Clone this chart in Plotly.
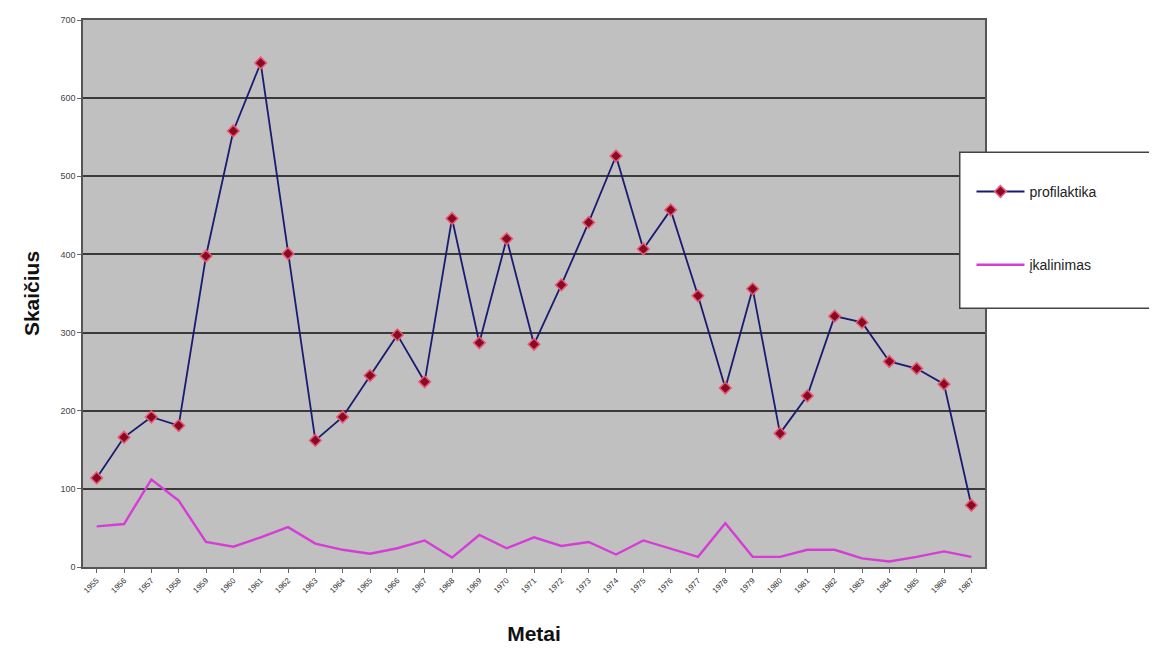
import plotly.graph_objects as go

years = [str(y) for y in range(1955, 1988)]
profilaktika = [114, 166, 192, 181, 398, 558, 645, 401, 162, 192, 245, 297, 237, 446, 287,
                420, 285, 361, 441, 526, 407, 457, 347, 229, 356, 171, 219, 321, 313, 263,
                254, 234, 79]
ikalinimas = [52, 55, 112, 85, 32, 26, 38, 51, 30, 22, 17, 24, 34, 12, 41,
              24, 38, 27, 32, 16, 34, 24, 13, 56, 13, 13, 22, 22, 11, 7,
              13, 20, 13]

fig = go.Figure()
fig.add_trace(go.Scatter(
    x=years, y=profilaktika, name="profilaktika", mode="lines+markers",
    line=dict(color="#1a1a70", width=1.8),
    marker=dict(symbol="diamond", size=9, color="#8a0a22",
                line=dict(color="#e85a78", width=1.5)),
    legendgroup="a",
))
fig.add_trace(go.Scatter(
    x=years, y=ikalinimas, name="įkalinimas", mode="lines",
    line=dict(color="#d63cd6", width=2.4),
    legendgroup="b",
))

fig.update_layout(
    width=1157, height=655,
    margin=dict(l=75, r=180, t=7, b=96),
    paper_bgcolor="white",
    plot_bgcolor="#c0c0c0",
    font=dict(family="Liberation Sans, Arial, sans-serif", color="#222"),
    showlegend=True,
    legend=dict(
        x=0.985, y=0.715, xanchor="left", yanchor="top",
        bgcolor="rgba(0,0,0,0)", borderwidth=0,
        font=dict(size=14, color="#222"),
        tracegroupgap=52, traceorder="grouped", itemwidth=48,
    ),
    shapes=[dict(
        type="rect", xref="paper", yref="paper",
        x0=0.972, x1=1.2, y0=0.473, y1=0.758,
        fillcolor="white", line=dict(color="#444", width=1.5), layer="above",
    )],
)

fig.update_xaxes(
    type="category", range=[-0.5, len(years) - 0.5],
    tickangle=-45, tickfont=dict(size=8, color="#333"),
    ticks="outside", ticklen=4, tickcolor="#666",
    showgrid=False, showline=True, linecolor="#555", linewidth=1.5, mirror=True,
    title=dict(text="<b>Metai</b>", font=dict(size=21, color="#111"), standoff=32),
)
fig.update_yaxes(
    range=[0, 700], dtick=100,
    tickfont=dict(size=9, color="#444"),
    ticks="outside", ticklen=4, tickcolor="#666",
    showgrid=True, gridcolor="#3a3a3a", gridwidth=1.5,
    showline=True, linecolor="#555", linewidth=1.5, mirror=True,
    zeroline=False,
    title=dict(text="<b>Skaičius</b>", font=dict(size=21, color="#111"), standoff=15),
)

fig.write_html("out.html")
